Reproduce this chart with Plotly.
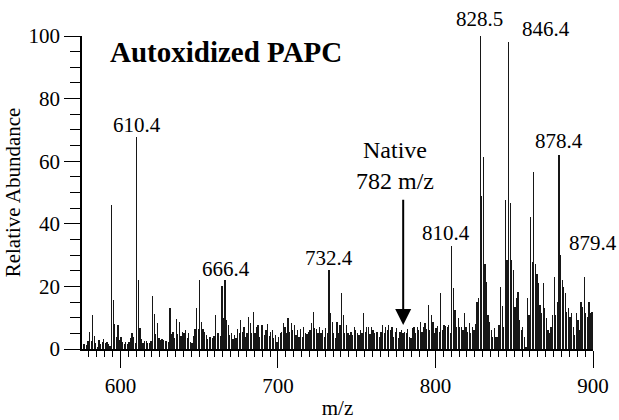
import plotly.graph_objects as go

# m/z of the first centroid bar and relative abundances (one bar per nominal mass, n + 0.4)
mz_first = 575
abundance = [
    2.9, 1.6, 1.6, 1.2, 2.5, 5.5, 2.7, 10.8, 4.3, 1.8,      # 575-584
    0.7, 3.0, 1.6, 2.3, 3.2, 2.0, 2.3, 1.5, 1.0, 46.0,      # 585-594
    15.6, 8.0, 3.9, 7.7, 2.9, 3.9, 2.3, 1.6, 2.3, 1.6,      # 595-604
    2.3, 3.4, 5.0, 3.9, 2.0, 67.6, 22.0, 6.8, 3.1, 1.8,     # 605-614
    2.7, 2.7, 1.8, 1.8, 2.5, 17.0, 11.2, 4.8, 8.2, 3.4,     # 615-624
    3.0, 3.1, 2.9, 2.5, 2.7, 2.3, 13.0, 4.8, 5.5, 3.4,      # 625-634
    9.5, 4.8, 8.7, 4.1, 5.5, 5.2, 6.0, 3.4, 5.2, 2.3,       # 635-644
    2.0, 4.1, 6.3, 13.0, 6.3, 22.0, 8.7, 6.3, 5.5, 4.5,     # 645-654
    3.1, 3.9, 3.9, 3.4, 4.0, 10.9, 5.2, 5.2, 4.0, 20.2,     # 655-664
    9.8, 22.0, 9.4, 7.7, 4.5, 5.0, 3.1, 4.5, 3.4, 6.3,      # 665-674
    5.0, 9.3, 5.5, 7.1, 3.9, 5.0, 10.3, 8.2, 5.0, 11.9,     # 675-684
    5.0, 6.9, 7.7, 3.9, 7.7, 7.7, 4.5, 6.0, 8.0, 4.0,       # 685-694
    5.5, 6.0, 3.4, 4.5, 2.3, 3.9, 5.0, 5.5, 8.2, 7.1,       # 695-704
    5.0, 9.8, 5.5, 8.2, 6.0, 7.7, 4.5, 6.0, 3.9, 6.3,       # 705-714
    3.9, 7.1, 5.0, 4.8, 5.5, 6.0, 8.4, 11.9, 6.6, 6.3,      # 715-724
    5.0, 7.1, 5.2, 6.0, 3.9, 6.6, 5.0, 25.2, 11.6, 8.7,     # 725-734
    5.0, 3.4, 8.7, 5.0, 7.7, 17.8, 10.9, 5.0, 7.7, 5.0,     # 735-744
    4.5, 5.5, 4.5, 7.1, 6.0, 5.0, 4.5, 6.0, 5.0, 11.6,      # 745-754
    5.5, 6.9, 7.1, 4.8, 6.9, 6.0, 5.0, 5.5, 5.5, 3.9,       # 755-764
    5.5, 7.7, 5.0, 7.1, 6.0, 7.7, 6.0, 7.1, 3.9, 5.5,       # 765-774
    6.6, 3.4, 5.5, 6.0, 5.2, 5.5, 5.0, 6.3, 3.9, 3.4,       # 775-784
    6.6, 7.1, 5.0, 7.1, 6.0, 8.7, 5.5, 7.1, 8.2, 6.5,       # 785-794
    14.0, 6.0, 10.9, 8.7, 5.0, 6.6, 7.3, 5.5, 17.8, 6.0,    # 795-804
    7.7, 7.3, 6.9, 7.7, 5.0, 32.9, 19.4, 12.4, 7.1, 9.8,    # 805-814
    7.1, 7.1, 6.0, 11.6, 7.1, 5.5, 8.2, 5.0, 7.1, 6.0,      # 815-824
    8.0, 15.1, 16.2, 100.0, 49.0, 61.5, 27.0, 21.5, 10.9, 8.7,  # 825-834
    6.0, 3.9, 6.6, 3.9, 3.9, 7.7, 19.9, 13.7, 7.1, 47.5,    # 835-844
    28.4, 98.0, 46.7, 28.4, 25.4, 13.5, 16.2, 18.3, 9.3, 6.0,   # 845-854
    7.1, 3.9, 0.7, 16.2, 10.9, 42.2, 27.9, 56.6, 27.3, 24.0,    # 855-864
    21.0, 14.0, 11.4, 21.0, 13.0, 9.8, 6.0, 5.0, 7.1, 10.9,     # 865-874
    23.1, 11.0, 15.1, 62.0, 30.0, 22.0, 19.9, 17.8, 11.9, 13.0, # 875-884
    10.3, 11.4, 7.1, 4.5, 11.4, 9.3, 6.0, 15.1, 13.5, 23.1,     # 885-894
    11.4, 10.3, 15.1, 11.4, 11.9,                               # 895-899
]
mz = [mz_first + i + 0.4 for i in range(len(abundance))]

# peak labels: text and anchor position (m/z, abundance) of the label centre
peak_text = ["610.4", "666.4", "732.4", "810.4", "878.4", "879.4"]
peak_lx = [610.2, 666.7, 732.7, 806.5, 878.4, 899.8]
peak_ly = [71.5, 25.5, 29.0, 37.0, 66.4, 33.8]
top_text = ["828.5", "846.4"]
top_lx = [828.1, 870.4]
top_shift = [17, 7]

native_mz = 779.5
x_ticks = [600, 700, 800, 900]
y_ticks = [0, 20, 40, 60, 80, 100]

FONT = "Liberation Serif"
fig = go.Figure()
fig.add_trace(go.Bar(
    x=mz, y=abundance, width=0.8,
    marker=dict(color="rgba(20,20,20,0.99)", line=dict(width=0)),
    showlegend=False, hoverinfo="x+y",
))

ann = []
for t, x, y in zip(peak_text, peak_lx, peak_ly):
    ann.append(dict(x=x, y=y, xref="x", yref="y", text=t, showarrow=False,
                    font=dict(family=FONT, size=21, color="black")))
for t, x, s in zip(top_text, top_lx, top_shift):
    ann.append(dict(x=x, y=100, xref="x", yref="y", text=t, showarrow=False, yshift=s,
                    font=dict(family=FONT, size=21, color="black")))
ann.append(dict(x=0.05, y=0.948, xref="paper", yref="paper", xanchor="left", yanchor="middle",
                text="<b>Autoxidized PAPC</b>", showarrow=False,
                font=dict(family=FONT, size=29, color="black")))
ann.append(dict(x=774.5, y=58.6, xref="x", yref="y", text="Native<br>782 m/z", showarrow=False,
                font=dict(family=FONT, size=24, color="black")))
ann.append(dict(x=native_mz, y=7.7, xref="x", yref="y", ax=native_mz, ay=48.2,
                axref="x", ayref="y", text="", showarrow=True, arrowhead=2,
                arrowsize=1.6, arrowwidth=2, arrowcolor="black"))

axis_common = dict(showline=True, linecolor="black", linewidth=1.5, ticks="outside",
                   tickcolor="black", tickwidth=1, showgrid=False, zeroline=False,
                   automargin=False,
                   tickfont=dict(family=FONT, size=21, color="black"))

fig.update_layout(
    width=619, height=420, autosize=False,
    margin=dict(l=82, r=26, t=36, b=71),
    plot_bgcolor="white", paper_bgcolor="white",
    bargap=0,
    xaxis=dict(range=[575.6, 900], tickvals=x_ticks, ticklen=17,
               minor=dict(tick0=0, dtick=5, ticklen=6, tickcolor="black", tickwidth=1, ticks="outside"),
               title=dict(text="m/z", font=dict(family=FONT, size=21, color="black"), standoff=6),
               **axis_common),
    xaxis2=dict(range=[575.6, 900], overlaying="x", anchor="y", side="bottom",
                tick0=0, dtick=20, ticks="outside", ticklen=10, tickcolor="black", tickwidth=1,
                showticklabels=False, showline=False, showgrid=False, zeroline=False),
    yaxis=dict(range=[0, 100], tickvals=y_ticks, ticklen=16,
               minor=dict(tick0=0, dtick=5, ticklen=10, tickcolor="black", tickwidth=1, ticks="outside"),
               title=dict(text="Relative Abundance", font=dict(family=FONT, size=21, color="black"), standoff=2),
               **axis_common),
    annotations=ann,
)
fig.write_html("out.html")
